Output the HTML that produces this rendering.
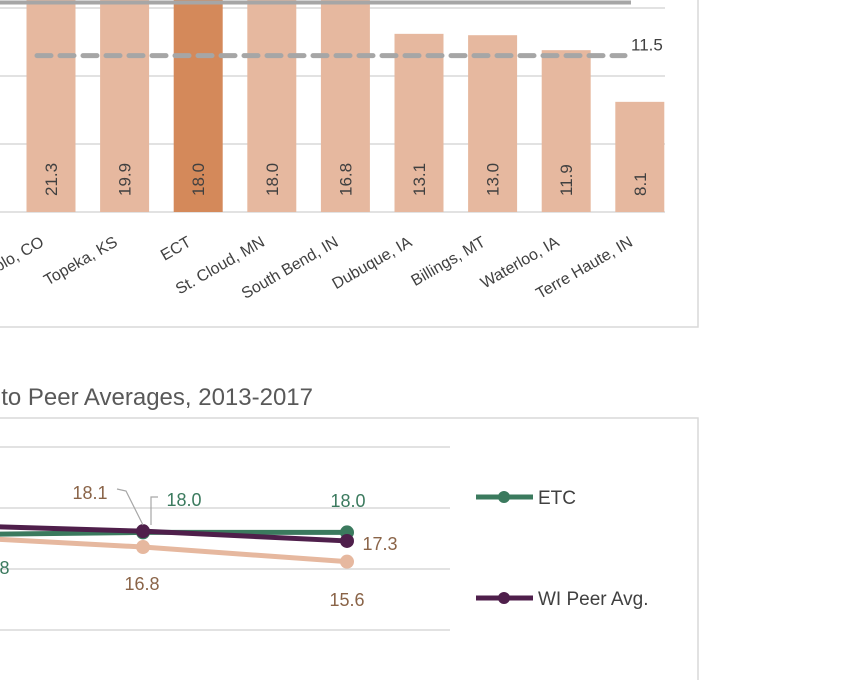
<!DOCTYPE html>
<html><head><meta charset="utf-8"><style>
html,body{margin:0;padding:0;background:#fff;width:848px;height:680px;overflow:hidden;font-family:"Liberation Sans",sans-serif;}
</style></head><body>
<svg id="s" width="848" height="680" xmlns="http://www.w3.org/2000/svg">
<rect x="-10" y="-10" width="708" height="337" fill="none" stroke="#d9d9d9" stroke-width="1.5"/>
<g id="bars"></g>
<text x="313" y="405" text-anchor="end" font-size="24" fill="#595959">Compared to Peer Averages, 2013-2017</text>
<rect x="-10" y="418" width="708" height="280" fill="none" stroke="#d9d9d9" stroke-width="1.5"/>
<g id="lines"></g>
</svg>
<script>
const NS="http://www.w3.org/2000/svg";
const barCategories=["Pueblo, CO","Topeka, KS","ECT","St. Cloud, MN","South Bend, IN","Dubuque, IA","Billings, MT","Waterloo, IA","Terre Haute, IN"];
const barValues=[21.3,19.9,18.0,18.0,16.8,13.1,13.0,11.9,8.1];
const barGridTicks=[0,5,10,15];
const avgLineValue=11.5;
const solidLineValue=15.4;
const lineYears=[2013,2014,2015,2016,2017];
const etcValues=[17.5,17.6,17.8,18.0,18.0];
const wiPeerValues=[18.9,18.8,18.6,18.1,17.3];
const peerValues=[18.0,17.9,17.7,16.8,15.6];
const lineGridTicks=[15,20,25,10];
function mk(t,a,p){const e=document.createElementNS(NS,t);for(const k in a)e.setAttribute(k,a[k]);(p||document.getElementById('s')).appendChild(e);return e;}
const bg=document.getElementById('bars');
const by=v=>212-v*13.6, bx=i=>51+i*73.6;
barGridTicks.forEach(t=>{const l=mk('line',{x1:0,x2:665,y1:by(t),y2:by(t),stroke:'#d9d9d9','stroke-width':1.5},bg);

});
barCategories.forEach((c,i)=>{const v=barValues[i];
const r=mk('rect',{x:bx(i)-24.5,y:by(v),width:49,height:by(0)-by(v),fill:c==='ECT'?'#d4895a':'#e6b89f'},bg);


const t=mk('text',{x:0,y:0,transform:`translate(${bx(i)+6},${196}) rotate(-90)`,'font-size':17,fill:'#404040'},bg);t.textContent=v.toFixed(1);


const a=mk('text',{x:0,y:0,transform:`translate(${bx(i)-6},${245}) rotate(-30)`,'font-size':16,fill:'#404040','text-anchor':'end'},bg);a.textContent=c;

});
const sl=mk('line',{x1:0,x2:631,y1:by(solidLineValue),y2:by(solidLineValue),stroke:'#a6a6a6','stroke-width':4},bg);


const dl=mk('line',{x1:37,x2:625,y1:by(avgLineValue),y2:by(avgLineValue),stroke:'#a6a6a6','stroke-width':5,'stroke-dasharray':'14 9','stroke-linecap':'round'},bg);


const dt=mk('text',{x:631,y:by(avgLineValue)-5,'font-size':17,fill:'#404040'},bg);dt.textContent=avgLineValue.toFixed(1);


const lg=document.getElementById('lines');
const ly=v=>508+(20-v)*12.2, lx=i=>143+(i-3)*204;
lineGridTicks.forEach(t=>{const l=mk('line',{x1:0,x2:450,y1:ly(t),y2:ly(t),stroke:'#d9d9d9','stroke-width':1.5},lg);

});
[[peerValues,'#e6b89f','peer-series'],[etcValues,'#3b7a5e','etc-series'],[wiPeerValues,'#4f1f4b','wi-peer-series']].forEach(([vals,col,nm])=>{
const p=mk('polyline',{points:vals.map((v,i)=>lx(i)+','+ly(v)).join(' '),fill:'none',stroke:col,'stroke-width':5},lg);


vals.forEach((v,i)=>{const c=mk('circle',{cx:lx(i),cy:ly(v),r:7,fill:col},lg);

});});
function lab(x,y,txt,col,nm){const t=mk('text',{x:x,y:y,'font-size':18,fill:col,'text-anchor':'middle'},lg);t.textContent=txt;

}
lab(90,499,wiPeerValues[3].toFixed(1),'#8a6448','wi-2016-label');
mk('polyline',{points:'117,489 126,491 143,525',fill:'none',stroke:'#a6a6a6','stroke-width':1.2},lg);
lab(184,506,etcValues[3].toFixed(1),'#3b7a5e','etc-2016-label');
mk('polyline',{points:'158,497 151,497 151,525',fill:'none',stroke:'#a6a6a6','stroke-width':1.2},lg);
lab(348,507,etcValues[4].toFixed(1),'#3b7a5e','etc-2017-label');
lab(380,550,wiPeerValues[4].toFixed(1),'#8a6448','wi-2017-label');
lab(142,590,peerValues[3].toFixed(1),'#8a6448','peer-2016-label');
lab(347,606,peerValues[4].toFixed(1),'#8a6448','peer-2017-label');
lab(-8,574,etcValues[2].toFixed(1),'#3b7a5e','etc-2015-label');
[['ETC','#3b7a5e',497,'legend-etc'],['WI Peer Avg.','#4f1f4b',598,'legend-wi-peer']].forEach(([t,c,y,nm])=>{
const l=mk('line',{x1:476,x2:533,y1:y,y2:y,stroke:c,'stroke-width':5},lg);


mk('circle',{cx:504,cy:y,r:6,fill:c},lg);
const tx=mk('text',{x:538,y:y+7,'font-size':19,fill:'#404040'},lg);tx.textContent=t;

});
</script>
</body></html>
